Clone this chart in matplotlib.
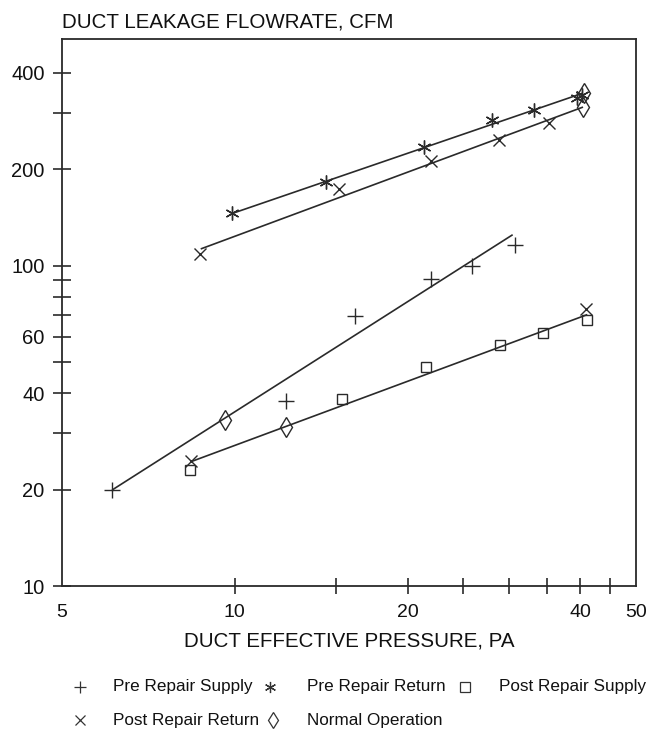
import matplotlib
matplotlib.use('Agg')
import matplotlib.pyplot as plt
from matplotlib.lines import Line2D

plt.rcParams['font.family'] = ['Liberation Sans', 'DejaVu Sans']

# measured points: duct effective pressure (Pa) vs leakage flow (cfm)
pre_sup_p = [6.1, 12.3, 16.2, 22.0, 25.9, 30.8]
pre_sup_q = [20.0, 37.8, 69.5, 90.8, 99.5, 116]
pre_ret_p = [9.9, 14.4, 21.4, 28.1, 33.2, 39.5, 40.3]
pre_ret_q = [146, 182, 234, 284, 306, 333, 340]
post_sup_p = [8.35, 15.4, 21.5, 29.0, 34.4, 41.1]
post_sup_q = [23.0, 38.3, 48.2, 56.5, 61.5, 67.6]
post_ret_p = [8.7, 15.2, 22.0, 28.9, 35.3, 8.4, 40.9]
post_ret_q = [108.6, 173, 212, 246, 278, 24.5, 73]
normal_p = [9.6, 12.3, 40.6, 40.4]
normal_q = [33.0, 31.3, 345, 312]

# fitted power-law lines (end points)
pre_sup_fit_p = [6.13, 30.4]
pre_sup_fit_q = [20.0, 124.5]
pre_ret_fit_p = [9.95, 40.3]
pre_ret_fit_q = [146, 345]
post_ret_fit_p = [8.75, 40.3]
post_ret_fit_q = [113, 312]
post_sup_fit_p = [8.42, 41.0]
post_sup_fit_q = [24.5, 70.2]

xtick_vals = [5, 10, 20, 40, 50]
xminor_vals = [15, 25, 30, 35, 45]
ytick_vals = [10, 20, 40, 60, 100, 200, 400]
yminor_vals = [30, 50, 70, 80, 90, 300]

legend_labels = ['Pre Repair Supply', 'Pre Repair Return', 'Post Repair Supply',
                 'Post Repair Return', 'Normal Operation']

ink = '#2a2a2a'
W, H = 649, 755

fig = plt.figure(figsize=(W / 100, H / 100), dpi=100)
ax = fig.add_axes([62 / W, 1 - 586 / H, (636 - 62) / W, (586 - 39) / H])
ax.set_xscale('log')
ax.set_yscale('log')
ax.set_xlim(5, 50)
ax.set_ylim(10, 510)

for s in ax.spines.values():
    s.set_color(ink)
    s.set_linewidth(1.3)

# fit lines
for fx, fy in [(pre_sup_fit_p, pre_sup_fit_q), (pre_ret_fit_p, pre_ret_fit_q),
               (post_ret_fit_p, post_ret_fit_q), (post_sup_fit_p, post_sup_fit_q)]:
    ax.plot(fx, fy, color=ink, lw=1.2)

star = (6, 2, 0)
mk = dict(linestyle='none', color=ink, markerfacecolor='none', markeredgewidth=1.0)
ax.plot(pre_sup_p, pre_sup_q, marker='+', markersize=11, **mk)
ax.plot(pre_ret_p, pre_ret_q, marker=star, markersize=10, **mk)
ax.plot(post_sup_p, post_sup_q, marker='s', markersize=7.5, **mk)
ax.plot(post_ret_p, post_ret_q, marker='x', markersize=8, **mk)
ax.plot(normal_p, normal_q, marker='d', markersize=10, **mk)

# ticks
ax.set_xticks(xtick_vals)
ax.set_xticklabels([str(v) for v in xtick_vals])
ax.set_xticks(xminor_vals, minor=True)
ax.set_xticklabels([], minor=True)
ax.set_yticks(ytick_vals)
ax.set_yticklabels([str(v) for v in ytick_vals])
ax.set_yticks(yminor_vals, minor=True)
ax.set_yticklabels([], minor=True)

ax.tick_params(axis='x', which='both', direction='inout', length=12, width=1.2,
               color=ink, labelsize=14, pad=7, labelcolor='#111')
ax.tick_params(axis='y', which='both', direction='inout', length=13, width=1.2,
               color=ink, labelsize=14.5, pad=6, labelcolor='#111')
xt = ax.xaxis.get_major_ticks()
xt[0].tick1line.set_visible(False)
xt[-1].tick1line.set_visible(False)

fig.text(62 / W, 1 - 28 / H, 'DUCT LEAKAGE FLOWRATE, CFM', fontsize=14.8,
         color='#111', ha='left', va='baseline')
fig.text(349 / W, 1 - 641 / H, 'DUCT EFFECTIVE PRESSURE, PA', fontsize=14.8,
         color='#111', ha='center', va='center')

# legend laid out by hand, two rows
rows = [687, 720]
entries = [
    ('+', 9, 80, rows[0], 113, legend_labels[0]),
    (star, 8, 270, rows[0], 307, legend_labels[1]),
    ('s', 6.5, 465, rows[0], 499, legend_labels[2]),
    ('x', 7, 80, rows[1], 113, legend_labels[3]),
    ('d', 8.5, 273, rows[1], 307, legend_labels[4]),
]
for m, ms, mx, my, tx, lab in entries:
    fig.add_artist(Line2D([mx / W], [1 - my / H], marker=m, markersize=ms,
                          color='#333', markerfacecolor='none',
                          markeredgewidth=0.9, linestyle='none'))
    fig.text(tx / W, 1 - my / H, lab, fontsize=12.3, color='#111',
             ha='left', va='center')

fig.savefig('out.png', dpi=100)
